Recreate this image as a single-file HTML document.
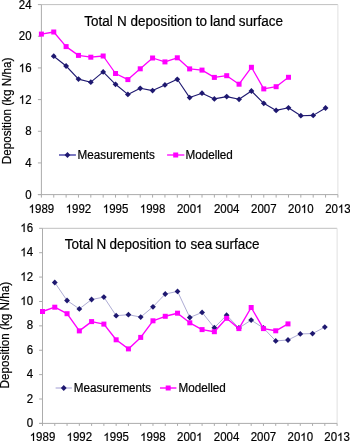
<!DOCTYPE html>
<html><head><meta charset="utf-8"><style>
html,body{margin:0;padding:0;background:#fff;}
svg{display:block;filter:blur(0.3px);}
</style></head><body>
<svg width="350" height="441" viewBox="0 0 350 441" shape-rendering="auto">
<rect width="350" height="441" fill="#fff"/>
<line x1="41.4" y1="4.6" x2="337.9" y2="4.6" stroke="#c0c0c0" stroke-width="1"/>
<line x1="337.9" y1="4.6" x2="337.9" y2="194.6" stroke="#e0e0e0" stroke-width="1"/>
<line x1="41.4" y1="4.6" x2="41.4" y2="197.6" stroke="#acacac" stroke-width="1"/>
<line x1="37.9" y1="194.6" x2="337.9" y2="194.6" stroke="#acacac" stroke-width="1"/>
<line x1="37.9" y1="194.60" x2="41.4" y2="194.60" stroke="#acacac" stroke-width="1"/>
<g transform="translate(31.60,198.80) scale(0.98,1.055)" fill="#000" stroke="#000" stroke-width="0.2" font-family="Liberation Sans, sans-serif"><text x="-6.507" y="0" font-size="11.7">0</text></g>
<line x1="37.9" y1="162.93" x2="41.4" y2="162.93" stroke="#acacac" stroke-width="1"/>
<g transform="translate(31.60,167.13) scale(0.98,1.055)" fill="#000" stroke="#000" stroke-width="0.2" font-family="Liberation Sans, sans-serif"><text x="-6.507" y="0" font-size="11.7">4</text></g>
<line x1="37.9" y1="131.27" x2="41.4" y2="131.27" stroke="#acacac" stroke-width="1"/>
<g transform="translate(31.60,135.47) scale(0.98,1.055)" fill="#000" stroke="#000" stroke-width="0.2" font-family="Liberation Sans, sans-serif"><text x="-6.507" y="0" font-size="11.7">8</text></g>
<line x1="37.9" y1="99.60" x2="41.4" y2="99.60" stroke="#acacac" stroke-width="1"/>
<g transform="translate(31.60,103.80) scale(0.98,1.055)" fill="#000" stroke="#000" stroke-width="0.2" font-family="Liberation Sans, sans-serif"><path transform="translate(-13.014,0) scale(0.005713,-0.005713)" d="M763,0L583,0L583,1098Q518,1038 465,1009Q412,979 359,950Q306,920 222,890L222,1057Q373,1125 430,1172Q486,1221 543,1270Q599,1318 646,1409L763,1409Z" stroke-width="35.01"/><text x="-6.507" y="0" font-size="11.7">2</text></g>
<line x1="37.9" y1="67.93" x2="41.4" y2="67.93" stroke="#acacac" stroke-width="1"/>
<g transform="translate(31.60,72.13) scale(0.98,1.055)" fill="#000" stroke="#000" stroke-width="0.2" font-family="Liberation Sans, sans-serif"><path transform="translate(-13.014,0) scale(0.005713,-0.005713)" d="M763,0L583,0L583,1098Q518,1038 465,1009Q412,979 359,950Q306,920 222,890L222,1057Q373,1125 430,1172Q486,1221 543,1270Q599,1318 646,1409L763,1409Z" stroke-width="35.01"/><text x="-6.507" y="0" font-size="11.7">6</text></g>
<line x1="37.9" y1="36.27" x2="41.4" y2="36.27" stroke="#acacac" stroke-width="1"/>
<g transform="translate(31.60,40.47) scale(0.98,1.055)" fill="#000" stroke="#000" stroke-width="0.2" font-family="Liberation Sans, sans-serif"><text x="-13.014" y="0" font-size="11.7">2</text><text x="-6.507" y="0" font-size="11.7">0</text></g>
<line x1="37.9" y1="4.60" x2="41.4" y2="4.60" stroke="#acacac" stroke-width="1"/>
<g transform="translate(31.60,8.80) scale(0.98,1.055)" fill="#000" stroke="#000" stroke-width="0.2" font-family="Liberation Sans, sans-serif"><text x="-13.014" y="0" font-size="11.7">2</text><text x="-6.507" y="0" font-size="11.7">4</text></g>
<line x1="53.75" y1="194.6" x2="53.75" y2="197.6" stroke="#acacac" stroke-width="1"/>
<line x1="66.11" y1="194.6" x2="66.11" y2="197.6" stroke="#acacac" stroke-width="1"/>
<line x1="78.46" y1="194.6" x2="78.46" y2="197.6" stroke="#acacac" stroke-width="1"/>
<line x1="90.82" y1="194.6" x2="90.82" y2="197.6" stroke="#acacac" stroke-width="1"/>
<line x1="103.17" y1="194.6" x2="103.17" y2="197.6" stroke="#acacac" stroke-width="1"/>
<line x1="115.53" y1="194.6" x2="115.53" y2="197.6" stroke="#acacac" stroke-width="1"/>
<line x1="127.88" y1="194.6" x2="127.88" y2="197.6" stroke="#acacac" stroke-width="1"/>
<line x1="140.23" y1="194.6" x2="140.23" y2="197.6" stroke="#acacac" stroke-width="1"/>
<line x1="152.59" y1="194.6" x2="152.59" y2="197.6" stroke="#acacac" stroke-width="1"/>
<line x1="164.94" y1="194.6" x2="164.94" y2="197.6" stroke="#acacac" stroke-width="1"/>
<line x1="177.30" y1="194.6" x2="177.30" y2="197.6" stroke="#acacac" stroke-width="1"/>
<line x1="189.65" y1="194.6" x2="189.65" y2="197.6" stroke="#acacac" stroke-width="1"/>
<line x1="202.00" y1="194.6" x2="202.00" y2="197.6" stroke="#acacac" stroke-width="1"/>
<line x1="214.36" y1="194.6" x2="214.36" y2="197.6" stroke="#acacac" stroke-width="1"/>
<line x1="226.71" y1="194.6" x2="226.71" y2="197.6" stroke="#acacac" stroke-width="1"/>
<line x1="239.07" y1="194.6" x2="239.07" y2="197.6" stroke="#acacac" stroke-width="1"/>
<line x1="251.42" y1="194.6" x2="251.42" y2="197.6" stroke="#acacac" stroke-width="1"/>
<line x1="263.77" y1="194.6" x2="263.77" y2="197.6" stroke="#acacac" stroke-width="1"/>
<line x1="276.13" y1="194.6" x2="276.13" y2="197.6" stroke="#acacac" stroke-width="1"/>
<line x1="288.48" y1="194.6" x2="288.48" y2="197.6" stroke="#acacac" stroke-width="1"/>
<line x1="300.84" y1="194.6" x2="300.84" y2="197.6" stroke="#acacac" stroke-width="1"/>
<line x1="313.19" y1="194.6" x2="313.19" y2="197.6" stroke="#acacac" stroke-width="1"/>
<line x1="325.55" y1="194.6" x2="325.55" y2="197.6" stroke="#acacac" stroke-width="1"/>
<line x1="337.90" y1="194.6" x2="337.90" y2="197.6" stroke="#acacac" stroke-width="1"/>
<g transform="translate(41.40,213.00) scale(0.98,1.055)" fill="#000" stroke="#000" stroke-width="0.2" font-family="Liberation Sans, sans-serif"><path transform="translate(-13.014,0) scale(0.005713,-0.005713)" d="M763,0L583,0L583,1098Q518,1038 465,1009Q412,979 359,950Q306,920 222,890L222,1057Q373,1125 430,1172Q486,1221 543,1270Q599,1318 646,1409L763,1409Z" stroke-width="35.01"/><text x="-6.507" y="0" font-size="11.7">9</text><text x="0.000" y="0" font-size="11.7">8</text><text x="6.507" y="0" font-size="11.7">9</text></g>
<g transform="translate(78.46,213.00) scale(0.98,1.055)" fill="#000" stroke="#000" stroke-width="0.2" font-family="Liberation Sans, sans-serif"><path transform="translate(-13.014,0) scale(0.005713,-0.005713)" d="M763,0L583,0L583,1098Q518,1038 465,1009Q412,979 359,950Q306,920 222,890L222,1057Q373,1125 430,1172Q486,1221 543,1270Q599,1318 646,1409L763,1409Z" stroke-width="35.01"/><text x="-6.507" y="0" font-size="11.7">9</text><text x="0.000" y="0" font-size="11.7">9</text><text x="6.507" y="0" font-size="11.7">2</text></g>
<g transform="translate(115.53,213.00) scale(0.98,1.055)" fill="#000" stroke="#000" stroke-width="0.2" font-family="Liberation Sans, sans-serif"><path transform="translate(-13.014,0) scale(0.005713,-0.005713)" d="M763,0L583,0L583,1098Q518,1038 465,1009Q412,979 359,950Q306,920 222,890L222,1057Q373,1125 430,1172Q486,1221 543,1270Q599,1318 646,1409L763,1409Z" stroke-width="35.01"/><text x="-6.507" y="0" font-size="11.7">9</text><text x="0.000" y="0" font-size="11.7">9</text><text x="6.507" y="0" font-size="11.7">5</text></g>
<g transform="translate(152.59,213.00) scale(0.98,1.055)" fill="#000" stroke="#000" stroke-width="0.2" font-family="Liberation Sans, sans-serif"><path transform="translate(-13.014,0) scale(0.005713,-0.005713)" d="M763,0L583,0L583,1098Q518,1038 465,1009Q412,979 359,950Q306,920 222,890L222,1057Q373,1125 430,1172Q486,1221 543,1270Q599,1318 646,1409L763,1409Z" stroke-width="35.01"/><text x="-6.507" y="0" font-size="11.7">9</text><text x="0.000" y="0" font-size="11.7">9</text><text x="6.507" y="0" font-size="11.7">8</text></g>
<g transform="translate(189.65,213.00) scale(0.98,1.055)" fill="#000" stroke="#000" stroke-width="0.2" font-family="Liberation Sans, sans-serif"><text x="-13.014" y="0" font-size="11.7">2</text><text x="-6.507" y="0" font-size="11.7">0</text><text x="0.000" y="0" font-size="11.7">0</text><path transform="translate(6.507,0) scale(0.005713,-0.005713)" d="M763,0L583,0L583,1098Q518,1038 465,1009Q412,979 359,950Q306,920 222,890L222,1057Q373,1125 430,1172Q486,1221 543,1270Q599,1318 646,1409L763,1409Z" stroke-width="35.01"/></g>
<g transform="translate(226.71,213.00) scale(0.98,1.055)" fill="#000" stroke="#000" stroke-width="0.2" font-family="Liberation Sans, sans-serif"><text x="-13.014" y="0" font-size="11.7">2</text><text x="-6.507" y="0" font-size="11.7">0</text><text x="0.000" y="0" font-size="11.7">0</text><text x="6.507" y="0" font-size="11.7">4</text></g>
<g transform="translate(263.77,213.00) scale(0.98,1.055)" fill="#000" stroke="#000" stroke-width="0.2" font-family="Liberation Sans, sans-serif"><text x="-13.014" y="0" font-size="11.7">2</text><text x="-6.507" y="0" font-size="11.7">0</text><text x="0.000" y="0" font-size="11.7">0</text><text x="6.507" y="0" font-size="11.7">7</text></g>
<g transform="translate(300.84,213.00) scale(0.98,1.055)" fill="#000" stroke="#000" stroke-width="0.2" font-family="Liberation Sans, sans-serif"><text x="-13.014" y="0" font-size="11.7">2</text><text x="-6.507" y="0" font-size="11.7">0</text><path transform="translate(0.000,0) scale(0.005713,-0.005713)" d="M763,0L583,0L583,1098Q518,1038 465,1009Q412,979 359,950Q306,920 222,890L222,1057Q373,1125 430,1172Q486,1221 543,1270Q599,1318 646,1409L763,1409Z" stroke-width="35.01"/><text x="6.507" y="0" font-size="11.7">0</text></g>
<g transform="translate(337.90,213.00) scale(0.98,1.055)" fill="#000" stroke="#000" stroke-width="0.2" font-family="Liberation Sans, sans-serif"><text x="-13.014" y="0" font-size="11.7">2</text><text x="-6.507" y="0" font-size="11.7">0</text><path transform="translate(0.000,0) scale(0.005713,-0.005713)" d="M763,0L583,0L583,1098Q518,1038 465,1009Q412,979 359,950Q306,920 222,890L222,1057Q373,1125 430,1172Q486,1221 543,1270Q599,1318 646,1409L763,1409Z" stroke-width="35.01"/><text x="6.507" y="0" font-size="11.7">3</text></g>
<text transform="translate(98.40,25.70) scale(1.0,1.05)" text-anchor="middle" font-size="13.5" font-family="Liberation Sans, sans-serif" stroke="#000" stroke-width="0.2">Total</text>
<text transform="translate(122.00,25.70) scale(1.0,1.05)" text-anchor="middle" font-size="13.5" font-family="Liberation Sans, sans-serif" stroke="#000" stroke-width="0.2">N</text>
<text transform="translate(161.20,25.70) scale(1.0,1.05)" text-anchor="middle" font-size="13.5" font-family="Liberation Sans, sans-serif" stroke="#000" stroke-width="0.2">deposition</text>
<text transform="translate(201.35,25.70) scale(1.0,1.05)" text-anchor="middle" font-size="13.5" font-family="Liberation Sans, sans-serif" stroke="#000" stroke-width="0.2">to</text>
<text transform="translate(222.75,25.70) scale(1.0,1.05)" text-anchor="middle" font-size="13.5" font-family="Liberation Sans, sans-serif" stroke="#000" stroke-width="0.2">land</text>
<text transform="translate(260.80,25.70) scale(1.0,1.05)" text-anchor="middle" font-size="13.5" font-family="Liberation Sans, sans-serif" stroke="#000" stroke-width="0.2">surface</text>
<text transform="translate(11.00,111.00) rotate(-90) scale(1.0,1.055)" text-anchor="middle" font-size="11.7" font-family="Liberation Sans, sans-serif" stroke="#000" stroke-width="0.2">Deposition (kg N/ha)</text>
<polyline points="53.75,56.2 66.11,66.0 78.46,79.1 90.82,82.2 103.17,71.9 115.53,84.3 127.88,94.4 140.23,88.3 152.59,90.6 164.94,84.9 177.30,79.3 189.65,97.6 202.00,93.2 214.36,98.9 226.71,96.6 239.07,99.3 251.42,91.0 263.77,103.3 276.13,110.4 288.48,107.8 300.84,115.7 313.19,115.4 325.55,108.0" fill="none" stroke="#1e1870" stroke-width="1.1" stroke-linejoin="round"/>
<polyline points="41.40,34.1 53.75,32.0 66.11,46.6 78.46,55.4 90.82,57.2 103.17,56.0 115.53,73.5 127.88,79.6 140.23,68.8 152.59,58.0 164.94,61.9 177.30,57.8 189.65,68.9 202.00,70.1 214.36,77.4 226.71,75.7 239.07,84.2 251.42,67.3 263.77,88.9 276.13,86.7 288.48,77.3" fill="none" stroke="#ff00ff" stroke-width="1.3" stroke-linejoin="round"/>
<path d="M53.75,53.30L56.65,56.20L53.75,59.10L50.85,56.20Z" fill="#1e1870"/>
<path d="M66.11,63.10L69.01,66.00L66.11,68.90L63.21,66.00Z" fill="#1e1870"/>
<path d="M78.46,76.20L81.36,79.10L78.46,82.00L75.56,79.10Z" fill="#1e1870"/>
<path d="M90.82,79.30L93.72,82.20L90.82,85.10L87.92,82.20Z" fill="#1e1870"/>
<path d="M103.17,69.00L106.07,71.90L103.17,74.80L100.27,71.90Z" fill="#1e1870"/>
<path d="M115.53,81.40L118.43,84.30L115.53,87.20L112.62,84.30Z" fill="#1e1870"/>
<path d="M127.88,91.50L130.78,94.40L127.88,97.30L124.98,94.40Z" fill="#1e1870"/>
<path d="M140.23,85.40L143.13,88.30L140.23,91.20L137.33,88.30Z" fill="#1e1870"/>
<path d="M152.59,87.70L155.49,90.60L152.59,93.50L149.69,90.60Z" fill="#1e1870"/>
<path d="M164.94,82.00L167.84,84.90L164.94,87.80L162.04,84.90Z" fill="#1e1870"/>
<path d="M177.30,76.40L180.20,79.30L177.30,82.20L174.40,79.30Z" fill="#1e1870"/>
<path d="M189.65,94.70L192.55,97.60L189.65,100.50L186.75,97.60Z" fill="#1e1870"/>
<path d="M202.00,90.30L204.90,93.20L202.00,96.10L199.10,93.20Z" fill="#1e1870"/>
<path d="M214.36,96.00L217.26,98.90L214.36,101.80L211.46,98.90Z" fill="#1e1870"/>
<path d="M226.71,93.70L229.61,96.60L226.71,99.50L223.81,96.60Z" fill="#1e1870"/>
<path d="M239.07,96.40L241.97,99.30L239.07,102.20L236.17,99.30Z" fill="#1e1870"/>
<path d="M251.42,88.10L254.32,91.00L251.42,93.90L248.52,91.00Z" fill="#1e1870"/>
<path d="M263.77,100.40L266.67,103.30L263.77,106.20L260.88,103.30Z" fill="#1e1870"/>
<path d="M276.13,107.50L279.03,110.40L276.13,113.30L273.23,110.40Z" fill="#1e1870"/>
<path d="M288.48,104.90L291.38,107.80L288.48,110.70L285.58,107.80Z" fill="#1e1870"/>
<path d="M300.84,112.80L303.74,115.70L300.84,118.60L297.94,115.70Z" fill="#1e1870"/>
<path d="M313.19,112.50L316.09,115.40L313.19,118.30L310.29,115.40Z" fill="#1e1870"/>
<path d="M325.55,105.10L328.45,108.00L325.55,110.90L322.65,108.00Z" fill="#1e1870"/>
<rect x="38.90" y="31.60" width="5" height="5" fill="#ff00ff"/>
<rect x="51.25" y="29.50" width="5" height="5" fill="#ff00ff"/>
<rect x="63.61" y="44.10" width="5" height="5" fill="#ff00ff"/>
<rect x="75.96" y="52.90" width="5" height="5" fill="#ff00ff"/>
<rect x="88.32" y="54.70" width="5" height="5" fill="#ff00ff"/>
<rect x="100.67" y="53.50" width="5" height="5" fill="#ff00ff"/>
<rect x="113.03" y="71.00" width="5" height="5" fill="#ff00ff"/>
<rect x="125.38" y="77.10" width="5" height="5" fill="#ff00ff"/>
<rect x="137.73" y="66.30" width="5" height="5" fill="#ff00ff"/>
<rect x="150.09" y="55.50" width="5" height="5" fill="#ff00ff"/>
<rect x="162.44" y="59.40" width="5" height="5" fill="#ff00ff"/>
<rect x="174.80" y="55.30" width="5" height="5" fill="#ff00ff"/>
<rect x="187.15" y="66.40" width="5" height="5" fill="#ff00ff"/>
<rect x="199.50" y="67.60" width="5" height="5" fill="#ff00ff"/>
<rect x="211.86" y="74.90" width="5" height="5" fill="#ff00ff"/>
<rect x="224.21" y="73.20" width="5" height="5" fill="#ff00ff"/>
<rect x="236.57" y="81.70" width="5" height="5" fill="#ff00ff"/>
<rect x="248.92" y="64.80" width="5" height="5" fill="#ff00ff"/>
<rect x="261.27" y="86.40" width="5" height="5" fill="#ff00ff"/>
<rect x="273.63" y="84.20" width="5" height="5" fill="#ff00ff"/>
<rect x="285.98" y="74.80" width="5" height="5" fill="#ff00ff"/>
<line x1="59.0" y1="155.0" x2="75.9" y2="155.0" stroke="#7b78c0" stroke-width="2"/>
<path d="M67.45,152.10L70.35,155.00L67.45,157.90L64.55,155.00Z" fill="#1e1870"/>
<text transform="translate(77.60,159.00) scale(1.0,1.07)" font-size="11.7" font-family="Liberation Sans, sans-serif" stroke="#000" stroke-width="0.2">Measurements</text>
<line x1="167.1" y1="155.0" x2="184.3" y2="155.0" stroke="#ff00ff" stroke-width="1.3"/>
<rect x="173.20" y="152.50" width="5" height="5" fill="#ff00ff"/>
<text transform="translate(185.40,159.00) scale(1.0,1.07)" font-size="11.7" font-family="Liberation Sans, sans-serif" stroke="#000" stroke-width="0.2">Modelled</text>
<line x1="42.5" y1="228.3" x2="337.1" y2="228.3" stroke="#c0c0c0" stroke-width="1"/>
<line x1="337.1" y1="228.3" x2="337.1" y2="423.4" stroke="#e0e0e0" stroke-width="1"/>
<line x1="42.5" y1="228.3" x2="42.5" y2="425.9" stroke="#acacac" stroke-width="1"/>
<line x1="39.1" y1="423.4" x2="337.1" y2="423.4" stroke="#acacac" stroke-width="1"/>
<line x1="39.1" y1="423.40" x2="42.5" y2="423.40" stroke="#acacac" stroke-width="1"/>
<g transform="translate(33.10,427.00) scale(0.98,1.055)" fill="#000" stroke="#000" stroke-width="0.2" font-family="Liberation Sans, sans-serif"><text x="-6.507" y="0" font-size="11.7">0</text></g>
<line x1="39.1" y1="399.01" x2="42.5" y2="399.01" stroke="#acacac" stroke-width="1"/>
<g transform="translate(33.10,402.61) scale(0.98,1.055)" fill="#000" stroke="#000" stroke-width="0.2" font-family="Liberation Sans, sans-serif"><text x="-6.507" y="0" font-size="11.7">2</text></g>
<line x1="39.1" y1="374.62" x2="42.5" y2="374.62" stroke="#acacac" stroke-width="1"/>
<g transform="translate(33.10,378.23) scale(0.98,1.055)" fill="#000" stroke="#000" stroke-width="0.2" font-family="Liberation Sans, sans-serif"><text x="-6.507" y="0" font-size="11.7">4</text></g>
<line x1="39.1" y1="350.24" x2="42.5" y2="350.24" stroke="#acacac" stroke-width="1"/>
<g transform="translate(33.10,353.84) scale(0.98,1.055)" fill="#000" stroke="#000" stroke-width="0.2" font-family="Liberation Sans, sans-serif"><text x="-6.507" y="0" font-size="11.7">6</text></g>
<line x1="39.1" y1="325.85" x2="42.5" y2="325.85" stroke="#acacac" stroke-width="1"/>
<g transform="translate(33.10,329.45) scale(0.98,1.055)" fill="#000" stroke="#000" stroke-width="0.2" font-family="Liberation Sans, sans-serif"><text x="-6.507" y="0" font-size="11.7">8</text></g>
<line x1="39.1" y1="301.46" x2="42.5" y2="301.46" stroke="#acacac" stroke-width="1"/>
<g transform="translate(33.10,305.06) scale(0.98,1.055)" fill="#000" stroke="#000" stroke-width="0.2" font-family="Liberation Sans, sans-serif"><path transform="translate(-13.014,0) scale(0.005713,-0.005713)" d="M763,0L583,0L583,1098Q518,1038 465,1009Q412,979 359,950Q306,920 222,890L222,1057Q373,1125 430,1172Q486,1221 543,1270Q599,1318 646,1409L763,1409Z" stroke-width="35.01"/><text x="-6.507" y="0" font-size="11.7">0</text></g>
<line x1="39.1" y1="277.07" x2="42.5" y2="277.07" stroke="#acacac" stroke-width="1"/>
<g transform="translate(33.10,280.68) scale(0.98,1.055)" fill="#000" stroke="#000" stroke-width="0.2" font-family="Liberation Sans, sans-serif"><path transform="translate(-13.014,0) scale(0.005713,-0.005713)" d="M763,0L583,0L583,1098Q518,1038 465,1009Q412,979 359,950Q306,920 222,890L222,1057Q373,1125 430,1172Q486,1221 543,1270Q599,1318 646,1409L763,1409Z" stroke-width="35.01"/><text x="-6.507" y="0" font-size="11.7">2</text></g>
<line x1="39.1" y1="252.69" x2="42.5" y2="252.69" stroke="#acacac" stroke-width="1"/>
<g transform="translate(33.10,256.29) scale(0.98,1.055)" fill="#000" stroke="#000" stroke-width="0.2" font-family="Liberation Sans, sans-serif"><path transform="translate(-13.014,0) scale(0.005713,-0.005713)" d="M763,0L583,0L583,1098Q518,1038 465,1009Q412,979 359,950Q306,920 222,890L222,1057Q373,1125 430,1172Q486,1221 543,1270Q599,1318 646,1409L763,1409Z" stroke-width="35.01"/><text x="-6.507" y="0" font-size="11.7">4</text></g>
<line x1="39.1" y1="228.30" x2="42.5" y2="228.30" stroke="#acacac" stroke-width="1"/>
<g transform="translate(33.10,231.90) scale(0.98,1.055)" fill="#000" stroke="#000" stroke-width="0.2" font-family="Liberation Sans, sans-serif"><path transform="translate(-13.014,0) scale(0.005713,-0.005713)" d="M763,0L583,0L583,1098Q518,1038 465,1009Q412,979 359,950Q306,920 222,890L222,1057Q373,1125 430,1172Q486,1221 543,1270Q599,1318 646,1409L763,1409Z" stroke-width="35.01"/><text x="-6.507" y="0" font-size="11.7">6</text></g>
<line x1="54.77" y1="423.4" x2="54.77" y2="425.9" stroke="#acacac" stroke-width="1"/>
<line x1="67.05" y1="423.4" x2="67.05" y2="425.9" stroke="#acacac" stroke-width="1"/>
<line x1="79.33" y1="423.4" x2="79.33" y2="425.9" stroke="#acacac" stroke-width="1"/>
<line x1="91.60" y1="423.4" x2="91.60" y2="425.9" stroke="#acacac" stroke-width="1"/>
<line x1="103.88" y1="423.4" x2="103.88" y2="425.9" stroke="#acacac" stroke-width="1"/>
<line x1="116.15" y1="423.4" x2="116.15" y2="425.9" stroke="#acacac" stroke-width="1"/>
<line x1="128.43" y1="423.4" x2="128.43" y2="425.9" stroke="#acacac" stroke-width="1"/>
<line x1="140.70" y1="423.4" x2="140.70" y2="425.9" stroke="#acacac" stroke-width="1"/>
<line x1="152.98" y1="423.4" x2="152.98" y2="425.9" stroke="#acacac" stroke-width="1"/>
<line x1="165.25" y1="423.4" x2="165.25" y2="425.9" stroke="#acacac" stroke-width="1"/>
<line x1="177.53" y1="423.4" x2="177.53" y2="425.9" stroke="#acacac" stroke-width="1"/>
<line x1="189.80" y1="423.4" x2="189.80" y2="425.9" stroke="#acacac" stroke-width="1"/>
<line x1="202.08" y1="423.4" x2="202.08" y2="425.9" stroke="#acacac" stroke-width="1"/>
<line x1="214.35" y1="423.4" x2="214.35" y2="425.9" stroke="#acacac" stroke-width="1"/>
<line x1="226.62" y1="423.4" x2="226.62" y2="425.9" stroke="#acacac" stroke-width="1"/>
<line x1="238.90" y1="423.4" x2="238.90" y2="425.9" stroke="#acacac" stroke-width="1"/>
<line x1="251.18" y1="423.4" x2="251.18" y2="425.9" stroke="#acacac" stroke-width="1"/>
<line x1="263.45" y1="423.4" x2="263.45" y2="425.9" stroke="#acacac" stroke-width="1"/>
<line x1="275.73" y1="423.4" x2="275.73" y2="425.9" stroke="#acacac" stroke-width="1"/>
<line x1="288.00" y1="423.4" x2="288.00" y2="425.9" stroke="#acacac" stroke-width="1"/>
<line x1="300.28" y1="423.4" x2="300.28" y2="425.9" stroke="#acacac" stroke-width="1"/>
<line x1="312.55" y1="423.4" x2="312.55" y2="425.9" stroke="#acacac" stroke-width="1"/>
<line x1="324.82" y1="423.4" x2="324.82" y2="425.9" stroke="#acacac" stroke-width="1"/>
<line x1="337.10" y1="423.4" x2="337.10" y2="425.9" stroke="#acacac" stroke-width="1"/>
<g transform="translate(42.50,441.30) scale(0.98,1.055)" fill="#000" stroke="#000" stroke-width="0.2" font-family="Liberation Sans, sans-serif"><path transform="translate(-13.014,0) scale(0.005713,-0.005713)" d="M763,0L583,0L583,1098Q518,1038 465,1009Q412,979 359,950Q306,920 222,890L222,1057Q373,1125 430,1172Q486,1221 543,1270Q599,1318 646,1409L763,1409Z" stroke-width="35.01"/><text x="-6.507" y="0" font-size="11.7">9</text><text x="0.000" y="0" font-size="11.7">8</text><text x="6.507" y="0" font-size="11.7">9</text></g>
<g transform="translate(79.33,441.30) scale(0.98,1.055)" fill="#000" stroke="#000" stroke-width="0.2" font-family="Liberation Sans, sans-serif"><path transform="translate(-13.014,0) scale(0.005713,-0.005713)" d="M763,0L583,0L583,1098Q518,1038 465,1009Q412,979 359,950Q306,920 222,890L222,1057Q373,1125 430,1172Q486,1221 543,1270Q599,1318 646,1409L763,1409Z" stroke-width="35.01"/><text x="-6.507" y="0" font-size="11.7">9</text><text x="0.000" y="0" font-size="11.7">9</text><text x="6.507" y="0" font-size="11.7">2</text></g>
<g transform="translate(116.15,441.30) scale(0.98,1.055)" fill="#000" stroke="#000" stroke-width="0.2" font-family="Liberation Sans, sans-serif"><path transform="translate(-13.014,0) scale(0.005713,-0.005713)" d="M763,0L583,0L583,1098Q518,1038 465,1009Q412,979 359,950Q306,920 222,890L222,1057Q373,1125 430,1172Q486,1221 543,1270Q599,1318 646,1409L763,1409Z" stroke-width="35.01"/><text x="-6.507" y="0" font-size="11.7">9</text><text x="0.000" y="0" font-size="11.7">9</text><text x="6.507" y="0" font-size="11.7">5</text></g>
<g transform="translate(152.98,441.30) scale(0.98,1.055)" fill="#000" stroke="#000" stroke-width="0.2" font-family="Liberation Sans, sans-serif"><path transform="translate(-13.014,0) scale(0.005713,-0.005713)" d="M763,0L583,0L583,1098Q518,1038 465,1009Q412,979 359,950Q306,920 222,890L222,1057Q373,1125 430,1172Q486,1221 543,1270Q599,1318 646,1409L763,1409Z" stroke-width="35.01"/><text x="-6.507" y="0" font-size="11.7">9</text><text x="0.000" y="0" font-size="11.7">9</text><text x="6.507" y="0" font-size="11.7">8</text></g>
<g transform="translate(189.80,441.30) scale(0.98,1.055)" fill="#000" stroke="#000" stroke-width="0.2" font-family="Liberation Sans, sans-serif"><text x="-13.014" y="0" font-size="11.7">2</text><text x="-6.507" y="0" font-size="11.7">0</text><text x="0.000" y="0" font-size="11.7">0</text><path transform="translate(6.507,0) scale(0.005713,-0.005713)" d="M763,0L583,0L583,1098Q518,1038 465,1009Q412,979 359,950Q306,920 222,890L222,1057Q373,1125 430,1172Q486,1221 543,1270Q599,1318 646,1409L763,1409Z" stroke-width="35.01"/></g>
<g transform="translate(226.62,441.30) scale(0.98,1.055)" fill="#000" stroke="#000" stroke-width="0.2" font-family="Liberation Sans, sans-serif"><text x="-13.014" y="0" font-size="11.7">2</text><text x="-6.507" y="0" font-size="11.7">0</text><text x="0.000" y="0" font-size="11.7">0</text><text x="6.507" y="0" font-size="11.7">4</text></g>
<g transform="translate(263.45,441.30) scale(0.98,1.055)" fill="#000" stroke="#000" stroke-width="0.2" font-family="Liberation Sans, sans-serif"><text x="-13.014" y="0" font-size="11.7">2</text><text x="-6.507" y="0" font-size="11.7">0</text><text x="0.000" y="0" font-size="11.7">0</text><text x="6.507" y="0" font-size="11.7">7</text></g>
<g transform="translate(300.28,441.30) scale(0.98,1.055)" fill="#000" stroke="#000" stroke-width="0.2" font-family="Liberation Sans, sans-serif"><text x="-13.014" y="0" font-size="11.7">2</text><text x="-6.507" y="0" font-size="11.7">0</text><path transform="translate(0.000,0) scale(0.005713,-0.005713)" d="M763,0L583,0L583,1098Q518,1038 465,1009Q412,979 359,950Q306,920 222,890L222,1057Q373,1125 430,1172Q486,1221 543,1270Q599,1318 646,1409L763,1409Z" stroke-width="35.01"/><text x="6.507" y="0" font-size="11.7">0</text></g>
<g transform="translate(337.10,441.30) scale(0.98,1.055)" fill="#000" stroke="#000" stroke-width="0.2" font-family="Liberation Sans, sans-serif"><text x="-13.014" y="0" font-size="11.7">2</text><text x="-6.507" y="0" font-size="11.7">0</text><path transform="translate(0.000,0) scale(0.005713,-0.005713)" d="M763,0L583,0L583,1098Q518,1038 465,1009Q412,979 359,950Q306,920 222,890L222,1057Q373,1125 430,1172Q486,1221 543,1270Q599,1318 646,1409L763,1409Z" stroke-width="35.01"/><text x="6.507" y="0" font-size="11.7">3</text></g>
<text transform="translate(78.90,249.10) scale(1.0,1.05)" text-anchor="middle" font-size="13.5" font-family="Liberation Sans, sans-serif" stroke="#000" stroke-width="0.2">Total</text>
<text transform="translate(101.30,249.10) scale(1.0,1.05)" text-anchor="middle" font-size="13.5" font-family="Liberation Sans, sans-serif" stroke="#000" stroke-width="0.2">N</text>
<text transform="translate(140.20,249.10) scale(1.0,1.05)" text-anchor="middle" font-size="13.5" font-family="Liberation Sans, sans-serif" stroke="#000" stroke-width="0.2">deposition</text>
<text transform="translate(180.95,249.10) scale(1.0,1.05)" text-anchor="middle" font-size="13.5" font-family="Liberation Sans, sans-serif" stroke="#000" stroke-width="0.2">to</text>
<text transform="translate(201.30,249.10) scale(1.0,1.05)" text-anchor="middle" font-size="13.5" font-family="Liberation Sans, sans-serif" stroke="#000" stroke-width="0.2">sea</text>
<text transform="translate(237.35,249.10) scale(1.0,1.05)" text-anchor="middle" font-size="13.5" font-family="Liberation Sans, sans-serif" stroke="#000" stroke-width="0.2">surface</text>
<text transform="translate(8.80,335.10) rotate(-90) scale(1.0,1.055)" text-anchor="middle" font-size="11.7" font-family="Liberation Sans, sans-serif" stroke="#000" stroke-width="0.2">Deposition (kg N/ha)</text>
<polyline points="54.77,282.5 67.05,300.5 79.33,308.9 91.60,299.5 103.88,297.1 116.15,315.7 128.43,314.7 140.70,317.1 152.98,306.8 165.25,294.0 177.53,291.4 189.80,317.5 202.08,312.4 214.35,327.7 226.62,315.2 238.90,328.0 251.18,320.1 263.45,328.0 275.73,340.9 288.00,340.0 300.28,333.9 312.55,333.6 324.82,327.1" fill="none" stroke="#aeacd4" stroke-width="1.0" stroke-linejoin="round"/>
<polyline points="42.50,311.5 54.77,307.2 67.05,313.7 79.33,330.9 91.60,321.6 103.88,324.1 116.15,339.8 128.43,348.9 140.70,337.4 152.98,320.8 165.25,316.3 177.53,313.2 189.80,322.8 202.08,329.6 214.35,331.7 226.62,318.3 238.90,328.6 251.18,307.5 263.45,328.6 275.73,330.8 288.00,323.9" fill="none" stroke="#ff00ff" stroke-width="1.4" stroke-linejoin="round"/>
<path d="M54.77,279.60L57.67,282.50L54.77,285.40L51.88,282.50Z" fill="#1e1870"/>
<path d="M67.05,297.60L69.95,300.50L67.05,303.40L64.15,300.50Z" fill="#1e1870"/>
<path d="M79.33,306.00L82.23,308.90L79.33,311.80L76.42,308.90Z" fill="#1e1870"/>
<path d="M91.60,296.60L94.50,299.50L91.60,302.40L88.70,299.50Z" fill="#1e1870"/>
<path d="M103.88,294.20L106.78,297.10L103.88,300.00L100.97,297.10Z" fill="#1e1870"/>
<path d="M116.15,312.80L119.05,315.70L116.15,318.60L113.25,315.70Z" fill="#1e1870"/>
<path d="M128.43,311.80L131.33,314.70L128.43,317.60L125.53,314.70Z" fill="#1e1870"/>
<path d="M140.70,314.20L143.60,317.10L140.70,320.00L137.80,317.10Z" fill="#1e1870"/>
<path d="M152.98,303.90L155.88,306.80L152.98,309.70L150.08,306.80Z" fill="#1e1870"/>
<path d="M165.25,291.10L168.15,294.00L165.25,296.90L162.35,294.00Z" fill="#1e1870"/>
<path d="M177.53,288.50L180.43,291.40L177.53,294.30L174.62,291.40Z" fill="#1e1870"/>
<path d="M189.80,314.60L192.70,317.50L189.80,320.40L186.90,317.50Z" fill="#1e1870"/>
<path d="M202.08,309.50L204.98,312.40L202.08,315.30L199.18,312.40Z" fill="#1e1870"/>
<path d="M214.35,324.80L217.25,327.70L214.35,330.60L211.45,327.70Z" fill="#1e1870"/>
<path d="M226.62,312.30L229.53,315.20L226.62,318.10L223.72,315.20Z" fill="#1e1870"/>
<path d="M238.90,325.10L241.80,328.00L238.90,330.90L236.00,328.00Z" fill="#1e1870"/>
<path d="M251.18,317.20L254.08,320.10L251.18,323.00L248.28,320.10Z" fill="#1e1870"/>
<path d="M263.45,325.10L266.35,328.00L263.45,330.90L260.55,328.00Z" fill="#1e1870"/>
<path d="M275.73,338.00L278.62,340.90L275.73,343.80L272.83,340.90Z" fill="#1e1870"/>
<path d="M288.00,337.10L290.90,340.00L288.00,342.90L285.10,340.00Z" fill="#1e1870"/>
<path d="M300.28,331.00L303.18,333.90L300.28,336.80L297.38,333.90Z" fill="#1e1870"/>
<path d="M312.55,330.70L315.45,333.60L312.55,336.50L309.65,333.60Z" fill="#1e1870"/>
<path d="M324.82,324.20L327.72,327.10L324.82,330.00L321.93,327.10Z" fill="#1e1870"/>
<rect x="40.00" y="309.00" width="5" height="5" fill="#ff00ff"/>
<rect x="52.27" y="304.70" width="5" height="5" fill="#ff00ff"/>
<rect x="64.55" y="311.20" width="5" height="5" fill="#ff00ff"/>
<rect x="76.83" y="328.40" width="5" height="5" fill="#ff00ff"/>
<rect x="89.10" y="319.10" width="5" height="5" fill="#ff00ff"/>
<rect x="101.38" y="321.60" width="5" height="5" fill="#ff00ff"/>
<rect x="113.65" y="337.30" width="5" height="5" fill="#ff00ff"/>
<rect x="125.93" y="346.40" width="5" height="5" fill="#ff00ff"/>
<rect x="138.20" y="334.90" width="5" height="5" fill="#ff00ff"/>
<rect x="150.48" y="318.30" width="5" height="5" fill="#ff00ff"/>
<rect x="162.75" y="313.80" width="5" height="5" fill="#ff00ff"/>
<rect x="175.03" y="310.70" width="5" height="5" fill="#ff00ff"/>
<rect x="187.30" y="320.30" width="5" height="5" fill="#ff00ff"/>
<rect x="199.58" y="327.10" width="5" height="5" fill="#ff00ff"/>
<rect x="211.85" y="329.20" width="5" height="5" fill="#ff00ff"/>
<rect x="224.12" y="315.80" width="5" height="5" fill="#ff00ff"/>
<rect x="236.40" y="326.10" width="5" height="5" fill="#ff00ff"/>
<rect x="248.68" y="305.00" width="5" height="5" fill="#ff00ff"/>
<rect x="260.95" y="326.10" width="5" height="5" fill="#ff00ff"/>
<rect x="273.23" y="328.30" width="5" height="5" fill="#ff00ff"/>
<rect x="285.50" y="321.40" width="5" height="5" fill="#ff00ff"/>
<line x1="55.6" y1="388.0" x2="71.9" y2="388.0" stroke="#c4c2e4" stroke-width="1.6"/>
<path d="M63.75,385.10L66.65,388.00L63.75,390.90L60.85,388.00Z" fill="#1e1870"/>
<text transform="translate(73.70,392.00) scale(1.0,1.07)" font-size="11.7" font-family="Liberation Sans, sans-serif" stroke="#000" stroke-width="0.2">Measurements</text>
<line x1="160.0" y1="388.0" x2="176.4" y2="388.0" stroke="#ff00ff" stroke-width="1.4"/>
<rect x="165.70" y="385.50" width="5" height="5" fill="#ff00ff"/>
<text transform="translate(178.40,392.00) scale(1.0,1.07)" font-size="11.7" font-family="Liberation Sans, sans-serif" stroke="#000" stroke-width="0.2">Modelled</text>
</svg>
</body></html>
